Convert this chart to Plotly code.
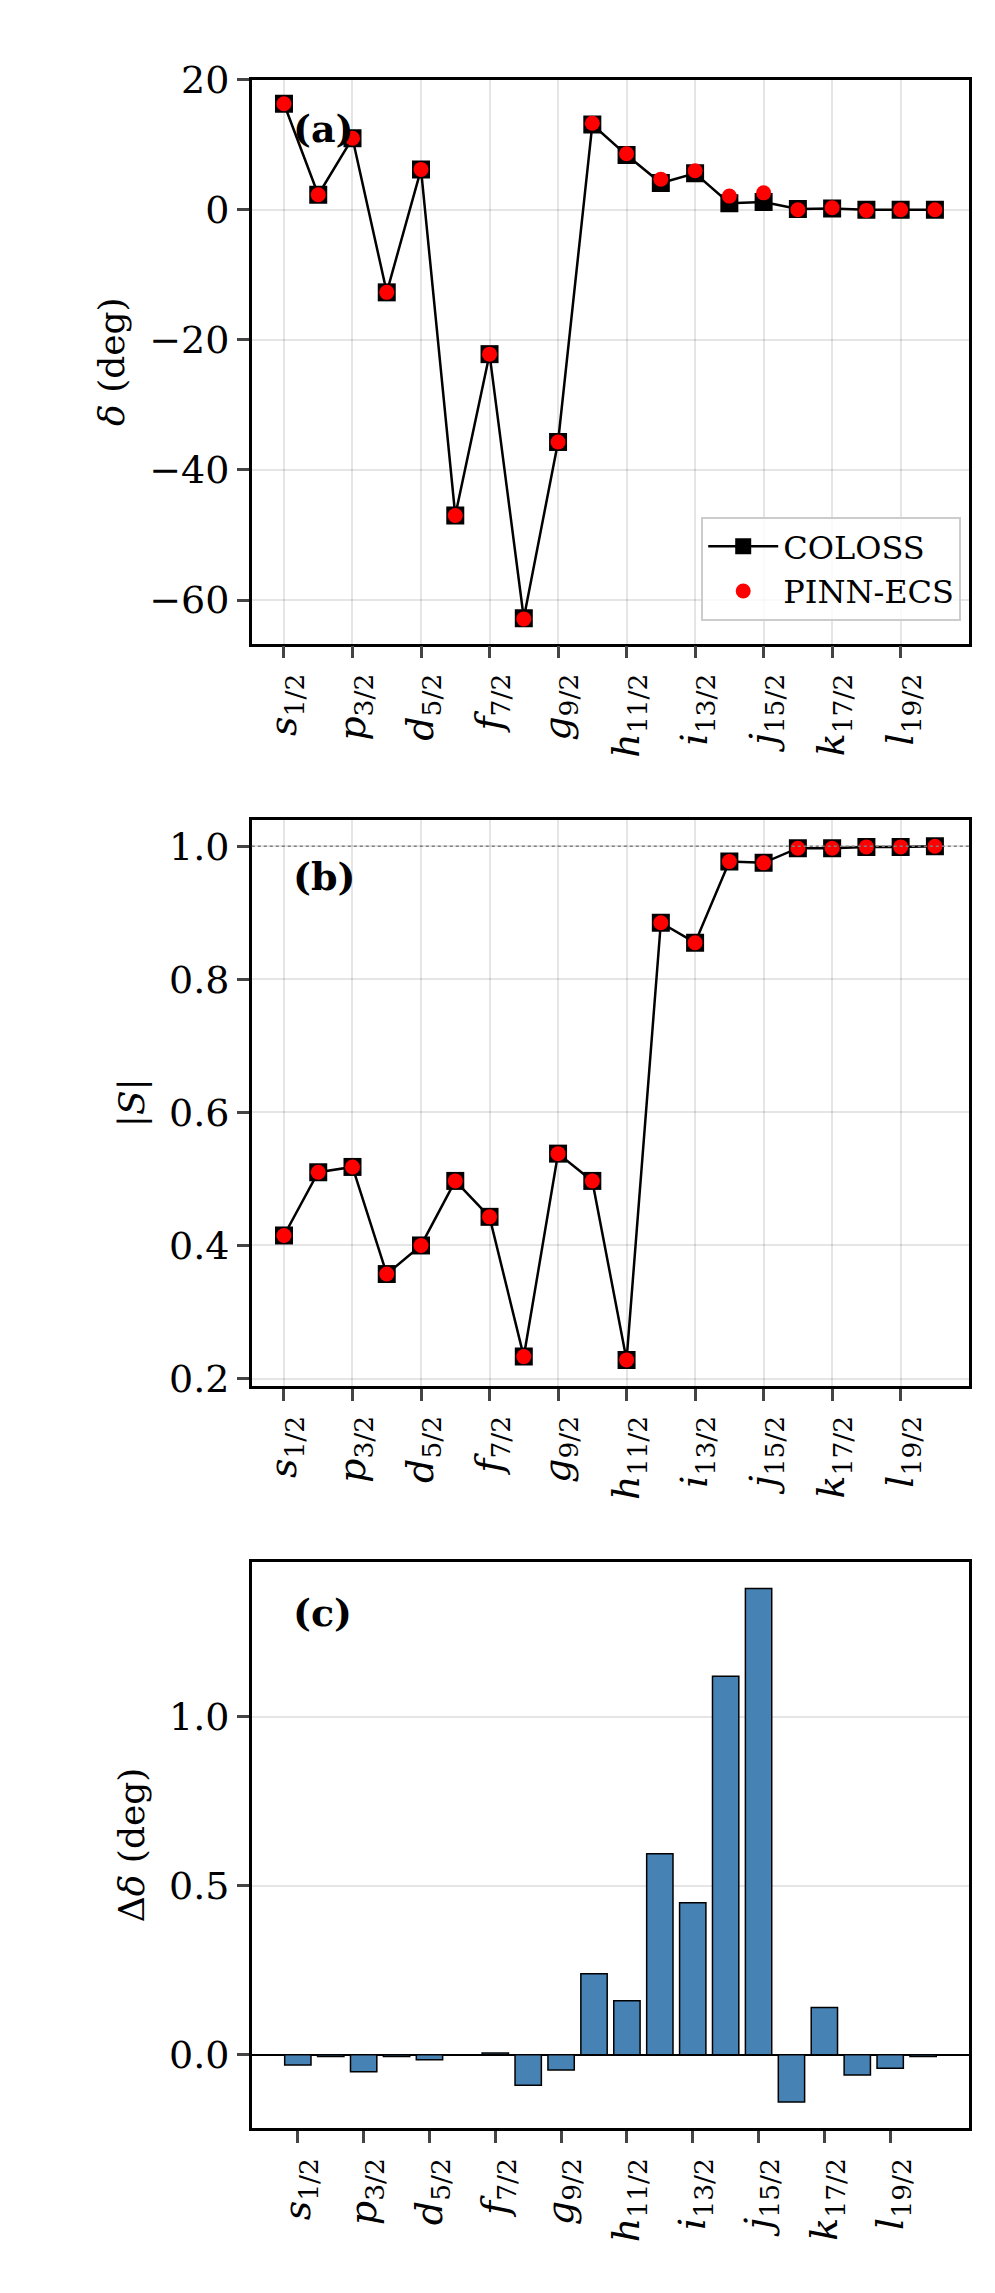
import plotly.graph_objects as go

idx = list(range(20))
tick_idx = [0, 2, 4, 6, 8, 10, 12, 14, 16, 18]
tick_txt = ["<i>s</i><sub>1/2</sub>","<i>p</i><sub>3/2</sub>","<i>d</i><sub>5/2</sub>","<i>f</i><sub>7/2</sub>",
            "<i>g</i><sub>9/2</sub>","<i>h</i><sub>11/2</sub>","<i>i</i><sub>13/2</sub>","<i>j</i><sub>15/2</sub>",
            "<i>k</i><sub>17/2</sub>","<i>l</i><sub>19/2</sub>"]

delta_coloss = [16.3, 2.3, 11.0, -12.7, 6.2, -47.0, -22.2, -62.8, -35.7, 13.1, 8.4, 4.1, 5.6, 1.0, 1.2, 0.1, 0.2, 0.0, 0.0, 0.0]
delta_pinn = [16.3, 2.3, 11.0, -12.7, 6.2, -47.0, -22.2, -62.9, -35.7, 13.3, 8.6, 4.7, 6.0, 2.1, 2.6, 0.0, 0.3, -0.1, 0.0, 0.0]
s_coloss = [0.415, 0.510, 0.518, 0.357, 0.400, 0.497, 0.443, 0.233, 0.538, 0.497, 0.228, 0.885, 0.855, 0.977, 0.975, 0.997, 0.997, 0.999, 0.999, 1.0]
s_pinn = [0.415, 0.510, 0.518, 0.357, 0.400, 0.497, 0.443, 0.233, 0.538, 0.497, 0.228, 0.885, 0.855, 0.977, 0.975, 0.997, 0.997, 0.999, 0.999, 1.0]
ddelta = [-0.03, -0.005, -0.05, -0.005, -0.015, 0.0, 0.005, -0.09, -0.045, 0.24, 0.16, 0.595, 0.45, 1.12, 1.38, -0.14, 0.14, -0.06, -0.04, -0.005]

FONT = "DejaVu Serif"
TS = 38
fig = go.Figure()
fig.add_trace(go.Scatter(x=idx, y=delta_coloss, mode="lines+markers", name="COLOSS",
                         line=dict(color="black", width=2.5), marker=dict(symbol="square", size=18, color="black"),
                         xaxis="x", yaxis="y"))
fig.add_trace(go.Scatter(x=idx, y=delta_pinn, mode="markers", name="PINN-ECS",
                         marker=dict(symbol="circle", size=15, color="red"), xaxis="x", yaxis="y"))
fig.add_trace(go.Scatter(x=idx, y=s_coloss, mode="lines+markers", showlegend=False,
                         line=dict(color="black", width=2.5), marker=dict(symbol="square", size=18, color="black"),
                         xaxis="x2", yaxis="y2"))
fig.add_trace(go.Scatter(x=idx, y=s_pinn, mode="markers", showlegend=False,
                         marker=dict(symbol="circle", size=15, color="red"), xaxis="x2", yaxis="y2"))
fig.add_trace(go.Bar(x=idx, y=ddelta, width=0.8, showlegend=False,
                     marker=dict(color="#4682b4", line=dict(color="black", width=1.5)), xaxis="x3", yaxis="y3"))

ax = dict(showline=True, linecolor="black", linewidth=2.5, mirror=True, ticks="outside", ticklen=12, tickwidth=2.5,
          tickfont=dict(family=FONT, size=TS, color="black"), gridcolor="rgba(0,0,0,0.1)", gridwidth=2, zeroline=False)
xax = dict(ax, tickmode="array", tickvals=tick_idx, ticktext=tick_txt, tickangle=-90)
dom_x = [0.245, 0.966]
fig.update_layout(
    width=995, height=2293, margin=dict(l=0, r=0, t=0, b=0),
    paper_bgcolor="white", plot_bgcolor="white", font=dict(family=FONT, color="black"),
    xaxis=dict(xax, domain=dom_x, range=[-0.94, 20.0], anchor="y"),
    yaxis=dict(ax, domain=[0.728, 0.978], range=[-66.7, 20], tickvals=[-60, -40, -20, 0, 20],
               ticktext=["−60", "−40", "−20", "0", "20"], anchor="x",
               title=dict(text="<i>δ</i> (deg)", font=dict(size=36), standoff=14)),
    xaxis2=dict(xax, domain=dom_x, range=[-0.94, 20.0], anchor="y2"),
    yaxis2=dict(ax, domain=[0.399, 0.650], range=[0.189, 1.04], tickvals=[0.2, 0.4, 0.6, 0.8, 1.0],
                tickformat=".1f", anchor="x2", title=dict(text="|<i>S</i>|", font=dict(size=36), standoff=14)),
    xaxis3=dict(xax, domain=dom_x, range=[-1.4, 20.4], anchor="y3", showgrid=False),
    yaxis3=dict(ax, domain=[0.070, 0.321], range=[-0.217, 1.459], tickvals=[0.0, 0.5, 1.0], tickformat=".1f",
                anchor="x3", zeroline=True, zerolinecolor="black", zerolinewidth=2,
                title=dict(text="Δ<i>δ</i> (deg)", font=dict(size=36), standoff=14)),
    legend=dict(x=0.958, y=0.738, xanchor="right", yanchor="bottom", xref="paper", yref="paper",
                bgcolor="rgba(255,255,255,0.8)", bordercolor="#cccccc", borderwidth=2,
                font=dict(family=FONT, size=32, color="black"), itemwidth=70, tracegroupgap=10),
    shapes=[dict(type="line", xref="x2 domain", yref="y2", x0=0, x1=1, y0=1.0, y1=1.0,
                 line=dict(color="gray", width=1.5, dash="dot"))],
    annotations=[
        dict(text="<b>(a)</b>", xref="x domain", yref="y domain", x=0.055, y=0.913, xanchor="left", yanchor="middle",
             showarrow=False, font=dict(family=FONT, size=38)),
        dict(text="<b>(b)</b>", xref="x2 domain", yref="y2 domain", x=0.055, y=0.90, xanchor="left", yanchor="middle",
             showarrow=False, font=dict(family=FONT, size=38)),
        dict(text="<b>(c)</b>", xref="x3 domain", yref="y3 domain", x=0.055, y=0.91, xanchor="left", yanchor="middle",
             showarrow=False, font=dict(family=FONT, size=38)),
    ],
)
fig.write_html("out.html")
